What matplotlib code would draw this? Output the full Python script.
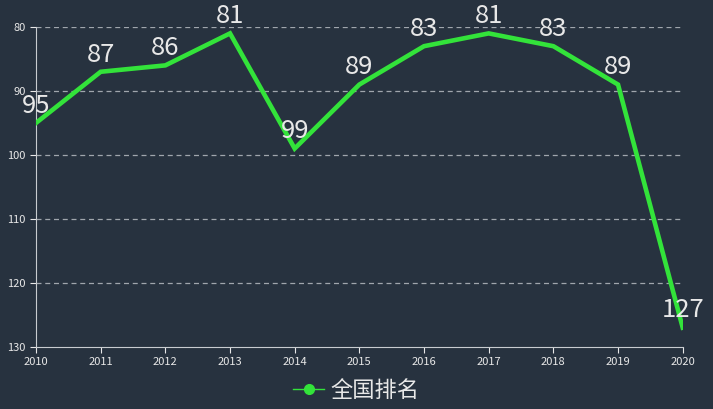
import matplotlib
matplotlib.use("Agg")
from matplotlib import pyplot as plt

plt.rcParams['font.family'] = ['Noto Sans CJK SC', 'DejaVu Sans']

years = [2010, 2011, 2012, 2013, 2014, 2015, 2016, 2017, 2018, 2019, 2020]
rank = [95, 87, 86, 81, 99, 89, 83, 81, 83, 89, 127]
yticks = [80, 90, 100, 110, 120, 130]

bg = "#27323f"
green = "#33e33a"
fg = "#e8e8e8"

fig = plt.figure(figsize=(7.13, 4.09), dpi=100, facecolor=bg)
ax = fig.add_axes([0.0505, 0.152, 0.907, 0.782], facecolor=bg)

ax.plot(years, rank, color=green, lw=3.3, solid_joinstyle="miter", label="全国排名", zorder=3)
for x, y in zip(years, rank):
    ax.annotate(str(y), (x, y), xytext=(0, 3), textcoords="offset points",
                ha="center", va="bottom", color=fg, fontsize=18.5)

ax.set_xlim(2010, 2020)
ax.set_ylim(130, 80)
ax.set_xticks(years)
ax.set_yticks(yticks)
ax.tick_params(colors=fg, labelsize=8, length=4, width=0.8)
for lbl in ax.get_xticklabels() + ax.get_yticklabels():
    lbl.set_color(fg)
for g in yticks[:-1]:
    ax.axhline(g, color="#a0a6ad", lw=0.9, ls=(0, (4, 3)), zorder=1)
for s in ["top", "right"]:
    ax.spines[s].set_visible(False)
for s in ["left", "bottom"]:
    ax.spines[s].set_color("#c8ccd0")

leg = fig.legend(handles=[plt.Line2D([], [], color=green, lw=1, marker="o", markersize=7)],
                 labels=["全国排名"], loc="center", bbox_to_anchor=(0.5, 0.045),
                 frameon=False, fontsize=16, handlelength=1.4, handletextpad=0.3)
for t in leg.get_texts():
    t.set_color(fg)

fig.savefig("out.png", dpi=100, facecolor=bg)
